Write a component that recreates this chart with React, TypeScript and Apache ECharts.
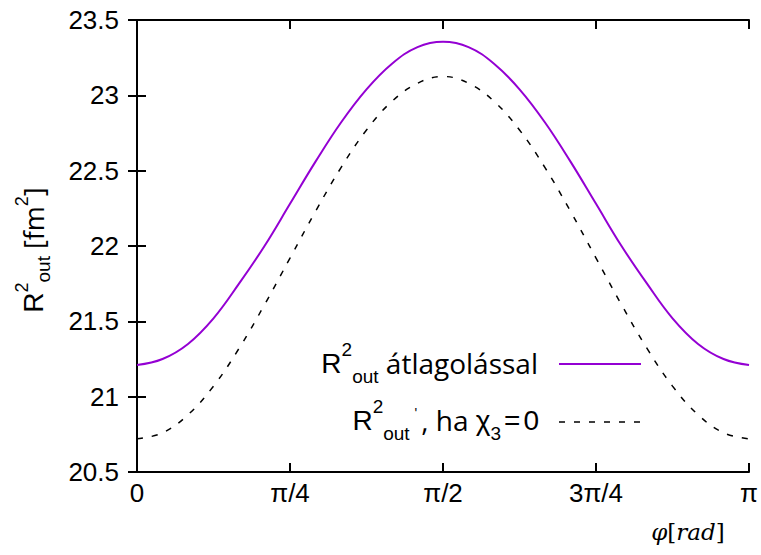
import React, { useEffect, useRef } from "react";
import * as echarts from "echarts";

// x positions in units of π (φ / π)
const phiFrac: number[] = Array.from({ length: 25 }, (_, k) => k / 24);

// R²out with averaging (purple, solid)
const rAveraged: number[] = [
  21.21, 21.25, 21.35, 21.52, 21.75, 22.0, 22.28, 22.56, 22.82, 23.04, 23.21, 23.32, 23.355,
  23.32, 23.21, 23.04, 22.82, 22.56, 22.28, 22.0, 21.75, 21.52, 21.35, 21.25, 21.21,
];

// R²out' with χ3 = 0 (black, dashed)
const rChiZero: number[] = [
  20.72, 20.76, 20.88, 21.07, 21.32, 21.61, 21.92, 22.23, 22.52, 22.77, 22.96, 23.08, 23.125,
  23.08, 22.96, 22.77, 22.52, 22.23, 21.92, 21.61, 21.32, 21.07, 20.88, 20.76, 20.72,
];

const xTickLabels: Record<string, string> = {
  "0": "0",
  "0.25": "π/4",
  "0.5": "π/2",
  "0.75": "3π/4",
  "1": "π",
};

const PURPLE = "#9400d3";
const SANS = "'Liberation Sans', Arial, sans-serif";
const CAL = "'Open Sans', sans-serif";

export default function App() {
  const ref = useRef<HTMLDivElement>(null);
  useEffect(() => {
    if (!ref.current) return;
    const chart = echarts.init(ref.current, undefined, { renderer: "svg" });
    const frameAxisLine = { show: true, lineStyle: { color: "#000", width: 2 } };
    const tick = { show: true, inside: true, length: 9, lineStyle: { color: "#000", width: 2 } };
    const legendRich = {
      r: { fontFamily: SANS, fontSize: 28, color: "#000" },
      sup: { fontFamily: SANS, fontSize: 19, color: "#000", padding: [0, 0, 28, 0] },
      sub: { fontFamily: SANS, fontSize: 19, color: "#000", padding: [26, 0, 0, 0] },
      n: { fontFamily: CAL, fontSize: 28, color: "#000" },
      s: { fontFamily: SANS, fontSize: 28, color: "#000" },
      eq: { fontFamily: SANS, fontSize: 28, color: "#000", padding: [0, 3, 0, 3] },
      ap: { fontFamily: SANS, fontSize: 14, color: "#aaa", padding: [0, 4, 14, 5] },
    };
    const yNameRich = {
      r: { fontFamily: SANS, fontSize: 28, color: "#000" },
      sup: { fontFamily: SANS, fontSize: 18, color: "#000", padding: [0, 0, 22, 0] },
      sub: { fontFamily: SANS, fontSize: 19, color: "#000", padding: [20, 0, 0, 0] },
      n: { fontFamily: CAL, fontSize: 27, color: "#000" },
    };
    chart.setOption({
      animation: false,
      grid: { left: 137, right: 9, top: 20, bottom: 83, containLabel: false },
      xAxis: [
        {
          type: "value",
          min: 0,
          max: 1,
          interval: 0.25,
          position: "bottom",
          axisLine: frameAxisLine,
          axisTick: tick,
          splitLine: { show: false },
          axisLabel: {
            margin: 8,
            fontSize: 26,
            fontFamily: SANS,
            color: "#000",
            formatter: (v: number) => xTickLabels[String(v)] ?? "",
          },
        },
        {
          type: "value",
          min: 0,
          max: 1,
          interval: 0.25,
          position: "top",
          axisLine: frameAxisLine,
          axisTick: tick,
          splitLine: { show: false },
          axisLabel: { show: false },
        },
      ],
      yAxis: [
        {
          type: "value",
          min: 20.5,
          max: 23.5,
          interval: 0.5,
          position: "left",
          axisLine: frameAxisLine,
          axisTick: tick,
          splitLine: { show: false },
          axisLabel: { margin: 18, fontSize: 26, fontFamily: SANS, color: "#000" },
        },
        {
          type: "value",
          min: 20.5,
          max: 23.5,
          interval: 0.5,
          position: "right",
          axisLine: frameAxisLine,
          axisTick: tick,
          splitLine: { show: false },
          axisLabel: { show: false },
        },
      ],
      series: [
        {
          name: "R²out átlagolással",
          type: "line",
          smooth: 0.4,
          showSymbol: false,
          data: phiFrac.map((x, i) => [x, rAveraged[i]]),
          lineStyle: { color: PURPLE, width: 2 },
          itemStyle: { color: PURPLE },
        },
        {
          name: "R²out', ha χ3=0",
          type: "line",
          smooth: 0.4,
          showSymbol: false,
          data: phiFrac.map((x, i) => [x, rChiZero[i]]),
          lineStyle: { color: "#000", width: 1.5, type: [6, 9] },
          itemStyle: { color: "#000" },
        },
      ],
      graphic: [
        {
          type: "text",
          x: 538,
          y: 363,
          style: {
            text: "{r|R}{sup|2}{sub|out}{n| átlagolással}",
            align: "right",
            verticalAlign: "middle",
            rich: legendRich,
          },
        },
        {
          type: "line",
          shape: { x1: 559, y1: 364, x2: 641, y2: 364 },
          style: { stroke: PURPLE, lineWidth: 2 },
        },
        {
          type: "text",
          x: 539,
          y: 420,
          style: {
            text: "{r|R}{sup|2}{sub|out}{ap|'}{n|, ha }{s|χ}{sub|3}{eq|=}{s|0}",
            align: "right",
            verticalAlign: "middle",
            rich: legendRich,
          },
        },
        {
          type: "line",
          shape: { x1: 559, y1: 422, x2: 641, y2: 422 },
          style: { stroke: "#000", lineWidth: 1.5, lineDash: [6, 9] },
        },
        {
          type: "text",
          x: 33,
          y: 250,
          rotation: Math.PI / 2,
          style: {
            text: "{r|R}{sup|2}{sub|out}{n| [fm}{sup|2}{n|]}",
            align: "center",
            verticalAlign: "middle",
            rich: yNameRich,
          },
        },
        {
          type: "text",
          x: 688,
          y: 532,
          style: {
            text: "{i|φ}{u|[}{i|rad}{u|]}",
            align: "center",
            verticalAlign: "middle",
            rich: {
              i: { fontFamily: "'DejaVu Serif', serif", fontStyle: "italic", fontSize: 23, color: "#000" },
              u: { fontFamily: "'DejaVu Serif', serif", fontSize: 23, color: "#000" },
            },
          },
        },
      ],
    });
    return () => chart.dispose();
  }, []);
  return (
    <div
      ref={ref}
      style={{ position: "absolute", left: 0, top: 0, width: 761, height: 555 }}
    />
  );
}
